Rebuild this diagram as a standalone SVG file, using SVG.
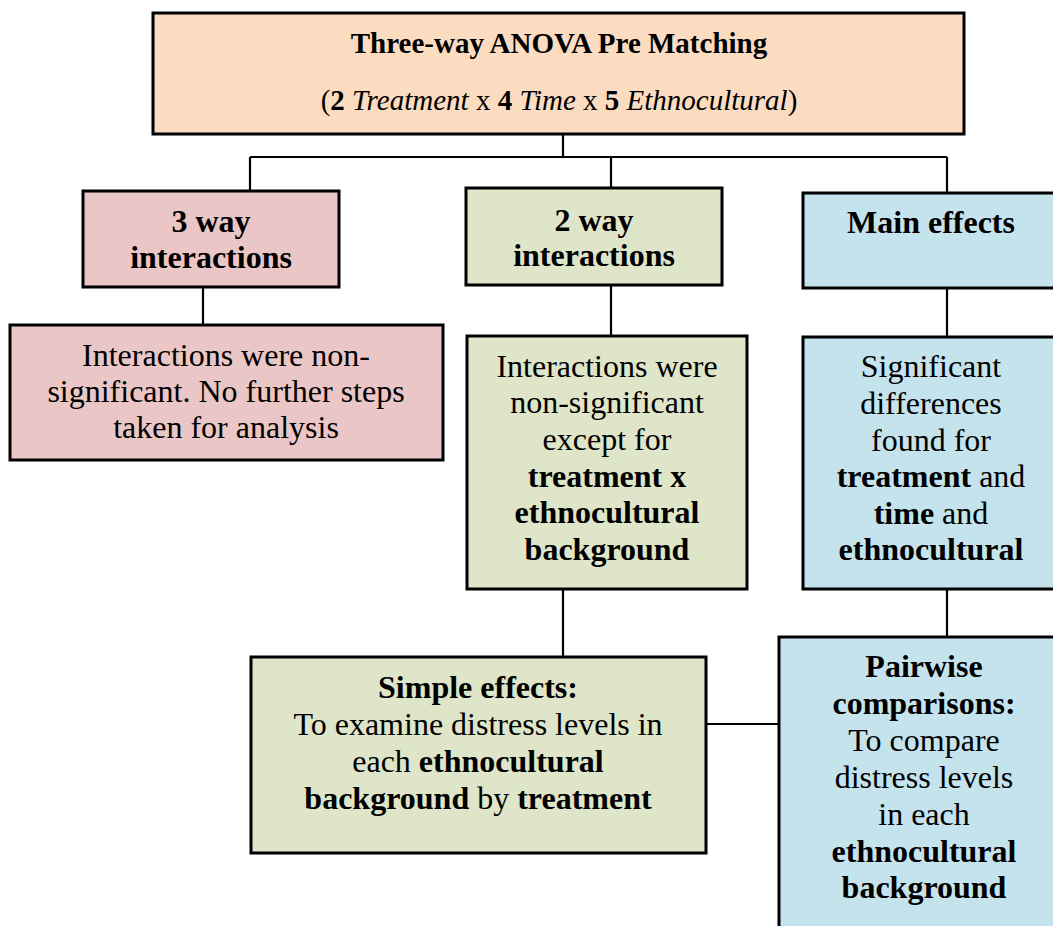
<svg xmlns="http://www.w3.org/2000/svg" width="1053" height="926" viewBox="0 0 1053 926">
  <style>
    .box { stroke: #000; stroke-width: 3; }
    .peach { fill: #FBDCC1; }
    .pink { fill: #EBC6C6; }
    .green { fill: #DEE5C8; }
    .blue { fill: #C5E3EC; }
    .conn { stroke: #000; stroke-width: 2.2; fill: none; }
    text { font-family: "Liberation Serif", "Times New Roman", serif; font-size: 32px; fill: #000; text-anchor: middle; }
    .top { font-size: 29px; }
    .b { font-weight: bold; }
    .i { font-style: italic; }
  </style>

  <rect width="1053" height="926" fill="#fff"/>

  <!-- connectors -->
  <g id="connectors">
    <path class="conn" d="M563 115 V157 M250 157 H947 M250 157 V191 M611 157 V188 M947 157 V193"/>
    <path class="conn" d="M203 287 V325"/>
    <path class="conn" d="M611 285 V336"/>
    <path class="conn" d="M947 288 V337"/>
    <path class="conn" d="M563 589 V657"/>
    <path class="conn" d="M947 589 V637"/>
    <path class="conn" d="M706 724 H778"/>
  </g>

  <g id="anova">
    <rect class="box peach" x="153" y="13" width="811" height="121"/>
    <text class="top b" x="559" y="53">Three-way ANOVA Pre Matching</text>
    <text class="top" x="559" y="110">(<tspan class="b">2</tspan> <tspan class="i">Treatment</tspan> x <tspan class="b">4</tspan> <tspan class="i">Time</tspan> x <tspan class="b">5</tspan> <tspan class="i">Ethnocultural</tspan>)</text>
  </g>

  <g id="three-way">
    <rect class="box pink" x="83" y="191" width="256" height="96"/>
    <text class="b" x="211" y="232">3 way</text>
    <text class="b" x="211" y="268">interactions</text>
  </g>

  <g id="three-way-result">
    <rect class="box pink" x="10" y="325" width="433" height="135"/>
    <text x="226" y="366">Interactions were non-</text>
    <text x="226" y="402">significant. No further steps</text>
    <text x="226" y="438">taken for analysis</text>
  </g>

  <g id="two-way">
    <rect class="box green" x="466" y="188" width="256" height="97"/>
    <text class="b" x="594" y="231">2 way</text>
    <text class="b" x="594" y="266">interactions</text>
  </g>

  <g id="two-way-result">
    <rect class="box green" x="467" y="336" width="280" height="253"/>
    <text x="607" y="377">Interactions were</text>
    <text x="607" y="413">non-significant</text>
    <text x="607" y="450">except for</text>
    <text class="b" x="607" y="487">treatment x</text>
    <text class="b" x="607" y="523">ethnocultural</text>
    <text class="b" x="607" y="560">background</text>
  </g>

  <g id="main-effects">
    <rect class="box blue" x="803" y="193" width="260" height="95"/>
    <text class="b" x="931" y="233">Main effects</text>
  </g>

  <g id="main-effects-result">
    <rect class="box blue" x="803" y="337" width="260" height="252"/>
    <text x="931" y="377">Significant</text>
    <text x="931" y="414">differences</text>
    <text x="931" y="451">found for</text>
    <text x="931" y="487"><tspan class="b">treatment</tspan> and</text>
    <text x="931" y="524"><tspan class="b">time</tspan> and</text>
    <text class="b" x="931" y="560">ethnocultural</text>
  </g>

  <g id="simple-effects">
    <rect class="box green" x="251" y="657" width="455" height="196"/>
    <text class="b" x="478" y="698">Simple effects:</text>
    <text x="478" y="735">To examine distress levels in</text>
    <text x="478" y="772">each <tspan class="b">ethnocultural</tspan></text>
    <text x="478" y="809"><tspan class="b">background</tspan> by <tspan class="b">treatment</tspan></text>
  </g>

  <g id="pairwise">
    <rect class="box blue" x="779" y="637" width="284" height="300"/>
    <text class="b" x="924" y="677">Pairwise</text>
    <text class="b" x="924" y="714">comparisons:</text>
    <text x="924" y="751">To compare</text>
    <text x="924" y="788">distress levels</text>
    <text x="924" y="825">in each</text>
    <text class="b" x="924" y="862">ethnocultural</text>
    <text class="b" x="924" y="898">background</text>
  </g>
</svg>
